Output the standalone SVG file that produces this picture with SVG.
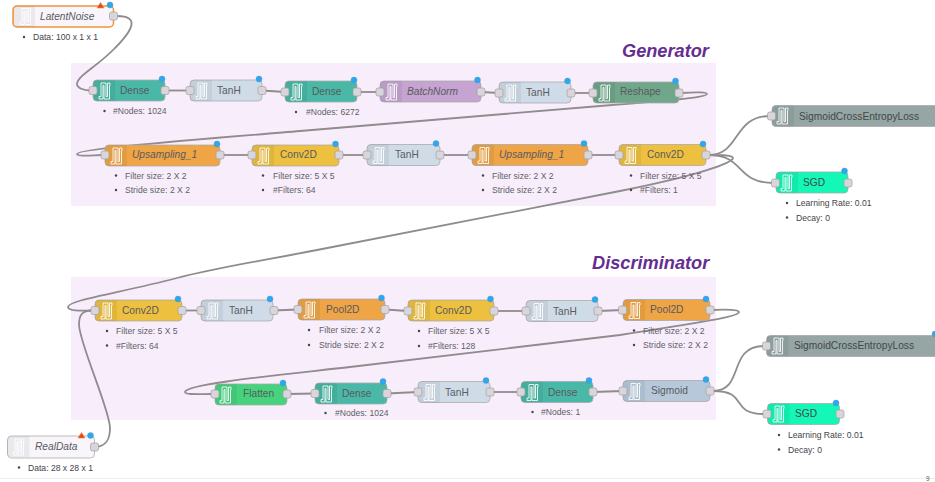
<svg xmlns="http://www.w3.org/2000/svg" width="935" height="482" viewBox="0 0 935 482">
<style>
text{font-family:"Liberation Sans",Arial,sans-serif;font-size:10.2px;fill:#5a5a60}
.t{font-size:18.2px;font-weight:bold;font-style:italic;fill:#662d91}
.i{font-style:italic}
.d{font-size:8.6px;fill:#5e5e66}
.k{font-size:8.6px;fill:#44444a}
.e{font-size:6.500px;fill:#55555a}
.b{fill:#444}
.n{stroke:#a9a9ad;stroke-width:.8}
.bd{fill:#000;fill-opacity:.055}
.ic{fill:none;stroke:#fff;stroke-opacity:.85;stroke-width:1}
.p{fill:#d9d5da;stroke:#a0a0a0;stroke-width:.7}
.s{fill:#2ba8f2;stroke:#5a8fb0;stroke-width:.4}
.w{fill:#e2481c;stroke:#ef8a3a;stroke-width:.6}
.c path{fill:none;stroke:#8f8b8e;stroke-width:1.800}
.dense{fill:#4ab8a6}.tanh{fill:#cfdce8}.bn{fill:#c5a4d2}.rs{fill:#70a78b}.up{fill:#efa445}.cv{fill:#edc03f}
.ce{fill:#95a6a4}.sgd{fill:#13f8b6}.fl{fill:#45d47d}.sg{fill:#b6c8d9}.data{fill:#f8f6fa}
.bg{fill:#f8eefb}
.dk{fill:#44484a}
</style>
<defs>
<path id="band" class="bd" d="M4 0H22V21H4Q0 21 0 17V4Q0 0 4 0Z"/>
<path id="pulse" d="M0 16V13.500H2V0H7V13.500H8.500V0H11V2.500H10.500V16H5V2.500H4V16Z"/>
</defs>
<rect class="bg" x="71" y="63" width="645" height="143"/>
<rect class="bg" x="71" y="277" width="645" height="143"/>
<text class="t" x="622" y="57">Generator</text>
<text class="t" x="592" y="269">Discriminator</text>
<path d="M0 478.500H935" stroke="#eeeeee" fill="none"/>
<text x="926" y="480.500" class="e">9</text>
<g class="c" id="connectors">
<path d="M117 16C140 16 133 30 115 48C98 66 77 76 77 84C77 88 84 90.500 90 90.500"/>
<path d="M165 90.500H190"/><path d="M262 90.500L285 92"/><path d="M357 92H380"/><path d="M481 92L499 93"/><path d="M571 93H593"/>
<path d="M682 93C695 92 707 92 707 94C707 97 680 100 600 106L300 131C230 137 77 148 77 154C77 157 95 155 102 155"/>
<path d="M220 155H252"/><path d="M339 155H367"/><path d="M440 155H472"/><path d="M588 155H619"/>
<path d="M709 155C722 155 733 155 733 158C732 163 700 175 620 191L317 250C250 263 220 267 177 278C120 293 68 300 68 307C68 311 80 311 92 310.500"/>
<path d="M709 155C740 155 733 116 770 116"/>
<path d="M709 155C745 155 735 183 774 183"/>
<path d="M96 447C106 446 110 440 110 428C110 410 80 345 79 325C79 315 82 310.500 92 310.500"/>
<path d="M182 310.500H201"/><path d="M273 310.500L298 309.500"/><path d="M385 309.500L408 311"/><path d="M494 311H526"/><path d="M598 311L623 310"/>
<path d="M712 310C728 309 739 310 739 312C739 317 700 322 620 335L350 367C280 375 185 384 185 392C185 395 200 394 212 394"/>
<path d="M287 394L315 393.500"/><path d="M387 393.500L418 392"/><path d="M490 392H521"/><path d="M593 392L623 391"/>
<path d="M713 391C745 391 727 346 764 346"/>
<path d="M713 391C750 391 728 414 765 414"/>
</g>
<g id="LatentNoise"><rect class="data" x="13" y="6" width="100.500" height="21" rx="4" stroke="#f0923c" stroke-width="1.500"/><use href="#band" x="13" y="6"/><use href="#pulse" class="ic" x="20" y="8.500"/><text class="i" x="40" y="20">LatentNoise</text><rect class="p" x="109.500" y="12" width="8" height="8" rx="2"/><path class="w" d="M97 8L100.500 2.500L104 8Z"/><circle class="s" cx="110" cy="5" r="3"/><circle class="b" cx="24" cy="37" r="1.200"/><text class="k" x="33" y="40">Data: 100 x 1 x 1</text></g>
<g id="g-dense1"><rect class="n dense" x="93" y="80" width="72" height="21" rx="4"/><use href="#band" x="93" y="80"/><use href="#pulse" class="ic" x="99" y="83"/><text x="120" y="94">Dense</text><rect class="p" x="89" y="86.500" width="8" height="8" rx="2"/><rect class="p" x="161" y="86.500" width="8" height="8" rx="2"/><circle class="s" cx="162" cy="79" r="3"/><circle class="b" cx="104.500" cy="111" r="1.200"/><text class="d" x="113" y="114">#Nodes: 1024</text></g>
<g id="g-tanh1"><rect class="n tanh" x="190" y="80" width="72" height="21" rx="4"/><use href="#band" x="190" y="80"/><use href="#pulse" class="ic" x="196" y="83"/><text x="217" y="94">TanH</text><rect class="p" x="186" y="86.500" width="8" height="8" rx="2"/><rect class="p" x="258" y="86.500" width="8" height="8" rx="2"/><circle class="s" cx="259" cy="79" r="3"/></g>
<g id="g-dense2"><rect class="n dense" x="285" y="81" width="72" height="21" rx="4"/><use href="#band" x="285" y="81"/><use href="#pulse" class="ic" x="291" y="84"/><text x="312" y="94.500">Dense</text><rect class="p" x="281" y="88" width="8" height="8" rx="2"/><rect class="p" x="353" y="88" width="8" height="8" rx="2"/><circle class="s" cx="354" cy="80" r="3"/><circle class="b" cx="296" cy="112" r="1.200"/><text class="d" x="306" y="115">#Nodes: 6272</text></g>
<g id="g-batchnorm"><rect class="n bn" x="380" y="81" width="101" height="21" rx="4"/><use href="#band" x="380" y="81"/><use href="#pulse" class="ic" x="386" y="84"/><text class="i" x="407" y="95">BatchNorm</text><rect class="p" x="376" y="88" width="8" height="8" rx="2"/><rect class="p" x="477" y="88" width="8" height="8" rx="2"/><circle class="s" cx="477.500" cy="80" r="3"/></g>
<g id="g-tanh2"><rect class="n tanh" x="499" y="82" width="72" height="21" rx="4"/><use href="#band" x="499" y="82"/><use href="#pulse" class="ic" x="505" y="85"/><text x="526" y="96">TanH</text><rect class="p" x="495" y="89" width="8" height="8" rx="2"/><rect class="p" x="567" y="89" width="8" height="8" rx="2"/><circle class="s" cx="567.500" cy="81" r="3"/></g>
<g id="g-reshape"><rect class="n rs" x="593" y="82" width="86" height="21" rx="4"/><use href="#band" x="593" y="82"/><use href="#pulse" class="ic" x="599" y="85"/><text x="620" y="95">Reshape</text><rect class="p" x="675" y="89" width="8" height="8" rx="2"/><rect class="p" x="589" y="89" width="8" height="8" rx="2"/><circle class="s" cx="675.500" cy="81" r="3"/></g>
<g id="g-up1"><rect class="n up" x="105" y="145" width="115" height="21" rx="4"/><use href="#band" x="105" y="145"/><use href="#pulse" class="ic" x="111" y="148"/><text class="i" x="132" y="158">Upsampling_1</text><rect class="p" x="101" y="151" width="8" height="8" rx="2"/><rect class="p" x="216" y="151" width="8" height="8" rx="2"/><circle class="s" cx="217" cy="144" r="3"/><circle class="b" cx="116" cy="175.500" r="1.200"/><text class="d" x="125" y="178.500">Filter size: 2 X 2</text><circle class="b" cx="116" cy="190" r="1.200"/><text class="d" x="125" y="193">Stride size: 2 X 2</text></g>
<g id="g-conv1"><rect class="n cv" x="252" y="145" width="87" height="21" rx="4"/><use href="#band" x="252" y="145"/><use href="#pulse" class="ic" x="258" y="148"/><text x="280" y="158">Conv2D</text><rect class="p" x="248" y="151" width="8" height="8" rx="2"/><rect class="p" x="335" y="151" width="8" height="8" rx="2"/><circle class="s" cx="335.500" cy="144" r="3"/><circle class="b" cx="263" cy="175.500" r="1.200"/><text class="d" x="273" y="178.500">Filter size: 5 X 5</text><circle class="b" cx="263" cy="190" r="1.200"/><text class="d" x="273" y="193">#Filters: 64</text></g>
<g id="g-tanh3"><rect class="n tanh" x="367" y="144.500" width="73" height="21" rx="4"/><use href="#band" x="367" y="144.500"/><use href="#pulse" class="ic" x="373" y="147.500"/><text x="395" y="158">TanH</text><rect class="p" x="363" y="151" width="8" height="8" rx="2"/><rect class="p" x="436" y="151" width="8" height="8" rx="2"/><circle class="s" cx="436" cy="143.500" r="3"/></g>
<g id="g-up2"><rect class="n up" x="472" y="144.500" width="116" height="21" rx="4"/><use href="#band" x="472" y="144.500"/><use href="#pulse" class="ic" x="478" y="147.500"/><text class="i" x="499" y="158">Upsampling_1</text><rect class="p" x="468" y="151" width="8" height="8" rx="2"/><rect class="p" x="584" y="151" width="8" height="8" rx="2"/><circle class="s" cx="584" cy="143.500" r="3"/><circle class="b" cx="483" cy="175.500" r="1.200"/><text class="d" x="492" y="178.500">Filter size: 2 X 2</text><circle class="b" cx="483" cy="190" r="1.200"/><text class="d" x="492" y="193">Stride size: 2 X 2</text></g>
<g id="g-conv2"><rect class="n cv" x="619" y="144.500" width="87" height="21" rx="4"/><use href="#band" x="619" y="144.500"/><use href="#pulse" class="ic" x="625" y="147.500"/><text x="647" y="158">Conv2D</text><rect class="p" x="615" y="151" width="8" height="8" rx="2"/><rect class="p" x="702" y="151" width="8" height="8" rx="2"/><circle class="s" cx="703" cy="144" r="3"/><circle class="b" cx="631" cy="175.500" r="1.200"/><text class="d" x="640" y="178.500">Filter size: 5 X 5</text><circle class="b" cx="631" cy="190" r="1.200"/><text class="d" x="640" y="193">#Filters: 1</text></g>
<g id="g-ce1"><rect class="n ce" x="772" y="105.500" width="170" height="21" rx="4"/><use href="#band" x="772" y="105.500"/><use href="#pulse" class="ic" x="777" y="108"/><text class="dk" x="799" y="119.500">SigmoidCrossEntropyLoss</text><rect class="p" x="767.500" y="112" width="8" height="8" rx="2"/></g>
<g id="g-sgd1"><rect class="n sgd" x="776" y="172" width="72" height="21" rx="4"/><use href="#band" x="776" y="172"/><use href="#pulse" class="ic" x="781" y="175"/><text class="dk" x="803" y="186">SGD</text><rect class="p" x="771.500" y="179" width="8" height="8" rx="2"/><rect class="p" x="844" y="179" width="8" height="8" rx="2"/><circle class="s" cx="844.500" cy="171" r="3"/><circle class="b" cx="787" cy="203" r="1.200"/><text class="k" x="796" y="206">Learning Rate: 0.01</text><circle class="b" cx="787" cy="217.500" r="1.200"/><text class="k" x="796" y="220.500">Decay: 0</text></g>
<g id="d-conv1"><rect class="n cv" x="95" y="300" width="87" height="21" rx="4"/><use href="#band" x="95" y="300"/><use href="#pulse" class="ic" x="101" y="303"/><text x="122" y="314">Conv2D</text><rect class="p" x="91" y="306.500" width="8" height="8" rx="2"/><rect class="p" x="178" y="306.500" width="8" height="8" rx="2"/><circle class="s" cx="178" cy="299" r="3"/><circle class="b" cx="107" cy="331" r="1.200"/><text class="d" x="116" y="334">Filter size: 5 X 5</text><circle class="b" cx="107" cy="345.500" r="1.200"/><text class="d" x="116" y="348.500">#Filters: 64</text></g>
<g id="d-tanh1"><rect class="n tanh" x="201" y="300" width="72" height="21" rx="4"/><use href="#band" x="201" y="300"/><use href="#pulse" class="ic" x="207" y="303"/><text x="229" y="314">TanH</text><rect class="p" x="197" y="306.500" width="8" height="8" rx="2"/><rect class="p" x="270" y="306.500" width="8" height="8" rx="2"/><circle class="s" cx="270" cy="299" r="3"/></g>
<g id="d-pool1"><rect class="n up" x="298" y="299" width="87" height="21" rx="4"/><use href="#band" x="298" y="299"/><use href="#pulse" class="ic" x="304" y="302"/><text x="326" y="313">Pool2D</text><rect class="p" x="294" y="305.500" width="8" height="8" rx="2"/><rect class="p" x="381" y="305.500" width="8" height="8" rx="2"/><circle class="s" cx="381.500" cy="298" r="3"/><circle class="b" cx="309" cy="330" r="1.200"/><text class="d" x="319" y="333">Filter size: 2 X 2</text><circle class="b" cx="309" cy="345" r="1.200"/><text class="d" x="319" y="348">Stride size: 2 X 2</text></g>
<g id="d-conv2"><rect class="n cv" x="408" y="300" width="86" height="21" rx="4"/><use href="#band" x="408" y="300"/><use href="#pulse" class="ic" x="414" y="303"/><text x="435" y="314">Conv2D</text><rect class="p" x="404" y="307" width="8" height="8" rx="2"/><rect class="p" x="490" y="307" width="8" height="8" rx="2"/><circle class="s" cx="490.500" cy="299" r="3"/><circle class="b" cx="419" cy="331" r="1.200"/><text class="d" x="428" y="334">Filter size: 5 X 5</text><circle class="b" cx="419" cy="346" r="1.200"/><text class="d" x="428" y="349">#Filters: 128</text></g>
<g id="d-tanh2"><rect class="n tanh" x="526" y="300.500" width="72" height="21" rx="4"/><use href="#band" x="526" y="300.500"/><use href="#pulse" class="ic" x="532" y="303.500"/><text x="553" y="314.500">TanH</text><rect class="p" x="522" y="307" width="8" height="8" rx="2"/><rect class="p" x="594" y="307" width="8" height="8" rx="2"/><circle class="s" cx="595" cy="299.500" r="3"/></g>
<g id="d-pool2"><rect class="n up" x="623" y="299.500" width="87" height="21" rx="4"/><use href="#band" x="623" y="299.500"/><use href="#pulse" class="ic" x="629" y="302.500"/><text x="650" y="313">Pool2D</text><rect class="p" x="618.500" y="306" width="8" height="8" rx="2"/><rect class="p" x="706" y="306" width="8" height="8" rx="2"/><circle class="s" cx="706" cy="299" r="3"/><circle class="b" cx="634" cy="330.500" r="1.200"/><text class="d" x="643" y="333.500">Filter size: 2 X 2</text><circle class="b" cx="634" cy="345" r="1.200"/><text class="d" x="643" y="348">Stride size: 2 X 2</text></g>
<g id="d-flatten"><rect class="n fl" x="215" y="384" width="72" height="21" rx="4"/><use href="#band" x="215" y="384"/><use href="#pulse" class="ic" x="220" y="387"/><text x="243" y="397">Flatten</text><rect class="p" x="211" y="390" width="8" height="8" rx="2"/><rect class="p" x="283" y="390" width="8" height="8" rx="2"/><circle class="s" cx="283" cy="383" r="3"/></g>
<g id="d-dense1"><rect class="n dense" x="315" y="383" width="72" height="21" rx="4"/><use href="#band" x="315" y="383"/><use href="#pulse" class="ic" x="321" y="386"/><text x="342" y="396.500">Dense</text><rect class="p" x="311" y="389.500" width="8" height="8" rx="2"/><rect class="p" x="383" y="389.500" width="8" height="8" rx="2"/><circle class="s" cx="383" cy="381.500" r="3"/><circle class="b" cx="325.500" cy="413" r="1.200"/><text class="d" x="335" y="416">#Nodes: 1024</text></g>
<g id="d-tanh3"><rect class="n tanh" x="418" y="381.500" width="72" height="21" rx="4"/><use href="#band" x="418" y="381.500"/><use href="#pulse" class="ic" x="424" y="384.500"/><text x="445" y="395.500">TanH</text><rect class="p" x="414" y="388" width="8" height="8" rx="2"/><rect class="p" x="486" y="388" width="8" height="8" rx="2"/><circle class="s" cx="486" cy="380.500" r="3"/></g>
<g id="d-dense2"><rect class="n dense" x="521" y="381.500" width="72" height="21" rx="4"/><use href="#band" x="521" y="381.500"/><use href="#pulse" class="ic" x="527" y="384.500"/><text x="548" y="395.500">Dense</text><rect class="p" x="517" y="388" width="8" height="8" rx="2"/><rect class="p" x="589" y="388" width="8" height="8" rx="2"/><circle class="s" cx="589" cy="380.500" r="3"/><circle class="b" cx="532.500" cy="412" r="1.200"/><text class="d" x="541" y="415">#Nodes: 1</text></g>
<g id="d-sigmoid"><rect class="n sg" x="623" y="380.500" width="87" height="21" rx="4"/><use href="#band" x="623" y="380.500"/><use href="#pulse" class="ic" x="629" y="383.500"/><text x="651" y="394">Sigmoid</text><rect class="p" x="619" y="387" width="8" height="8" rx="2"/><rect class="p" x="706" y="387" width="8" height="8" rx="2"/><circle class="s" cx="706" cy="379.500" r="3"/></g>
<g id="d-ce"><rect class="n ce" x="766.500" y="335.500" width="175" height="21" rx="4"/><use href="#band" x="766.500" y="335.500"/><use href="#pulse" class="ic" x="772" y="338"/><text class="dk" x="794" y="349">SigmoidCrossEntropyLoss</text><rect class="p" x="762.500" y="342" width="8" height="8" rx="2"/><circle class="s" cx="935" cy="334" r="3"/></g>
<g id="d-sgd"><rect class="n sgd" x="767.500" y="403.500" width="72" height="21" rx="4"/><use href="#band" x="767.500" y="403.500"/><use href="#pulse" class="ic" x="773" y="406"/><text class="dk" x="795" y="417">SGD</text><rect class="p" x="763" y="410" width="8" height="8" rx="2"/><rect class="p" x="836" y="410" width="8" height="8" rx="2"/><circle class="s" cx="836" cy="403" r="3"/><circle class="b" cx="779" cy="435" r="1.200"/><text class="k" x="788" y="438">Learning Rate: 0.01</text><circle class="b" cx="779" cy="449.500" r="1.200"/><text class="k" x="788" y="452.500">Decay: 0</text></g>
<g id="RealData"><rect class="data" x="7.500" y="436" width="87" height="22" rx="4" stroke="#bbbbbb" stroke-width="1"/><use href="#band" x="7.500" y="436"/><use href="#pulse" class="ic" x="13" y="439"/><text class="i" x="35" y="450">RealData</text><rect class="p" x="90.500" y="443" width="8" height="8" rx="2"/><path class="w" d="M78 438L81.500 432.500L85 438Z"/><circle class="s" cx="90.500" cy="435.500" r="3"/><circle class="b" cx="19" cy="467.500" r="1.200"/><text class="k" x="28" y="470.500">Data: 28 x 28 x 1</text></g>
</svg>
